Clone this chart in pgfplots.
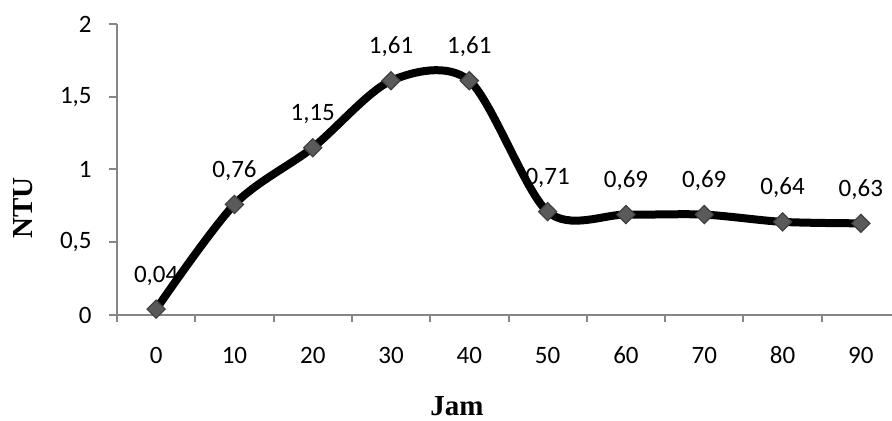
\documentclass[border=0pt]{standalone}
\usepackage{fontspec}
\setmainfont{Carlito}
\newfontfamily\tnr{Liberation Serif}
\usepackage{pgfplots}
\pgfplotsset{compat=1.18}
\definecolor{axgray}{RGB}{134,134,134}
\definecolor{mkfill}{RGB}{90,90,90}
\begin{document}
\begin{tikzpicture}
\useasboundingbox (-58.5pt,-53pt) rectangle (387.5pt,157.5pt);
\begin{axis}[
  at={(0pt,0pt)}, anchor=south west,
  scale only axis,
  width=387.5pt, height=145.5pt,
  xmin=-0.5, xmax=9.398, ymin=0, ymax=2,
  axis x line=bottom, axis y line=left,
  axis line style={-, draw=axgray, line width=1pt},
  clip=false,
  xtick={0,...,9},
  xticklabels={0,10,20,30,40,50,60,70,80,90},
  major x tick style={draw=none},
  minor xtick={-0.5,0.5,...,9.5},
  minor x tick style={draw=axgray, line width=1pt},
  minor tick length=3.5pt,
  ytick={0,0.5,1,1.5,2},
  y tick style={draw=axgray, line width=1pt},
  major tick length=4pt,
  tick align=outside,
  tick label style={font=\fontsize{12.5}{15}\selectfont},
  /pgf/number format/assume math mode=true,
  yticklabel style={/pgf/number format/.cd, use comma, fixed, precision=1, /tikz/.cd, anchor=east, xshift=-8.5pt, inner sep=0pt},
  xticklabel style={anchor=center, yshift=-16pt, inner sep=0pt},
  nodes near coords={\pgfmathprintnumber[use comma, fixed, fixed zerofill, precision=2, assume math mode=true]{\pgfplotspointmeta}},
  every node near coord/.append style={anchor=base, yshift=13.5pt, inner sep=0pt, font=\fontsize{12.5}{15}\selectfont, text=black},
]
\addplot[black, line width=4pt, smooth, tension=0.5,
  mark=square*, mark size=3.2pt,
  mark options={rotate=45, fill=mkfill, draw=black!75, line width=0.6pt}]
  coordinates {(0,0.04) (1,0.76) (2,1.15) (3,1.61) (4,1.61) (5,0.71) (6,0.69) (7,0.69) (8,0.64) (9,0.63)};
\end{axis}
\node[font=\tnr\bfseries\fontsize{14.5}{17}\selectfont, anchor=base, inner sep=0pt] at (170pt,-50.5pt) {Jam};
\node[font=\tnr\bfseries\fontsize{14.5}{17}\selectfont, rotate=90, anchor=center, inner sep=0pt] at (-47pt,53.5pt) {NTU};
\end{tikzpicture}
\end{document}
